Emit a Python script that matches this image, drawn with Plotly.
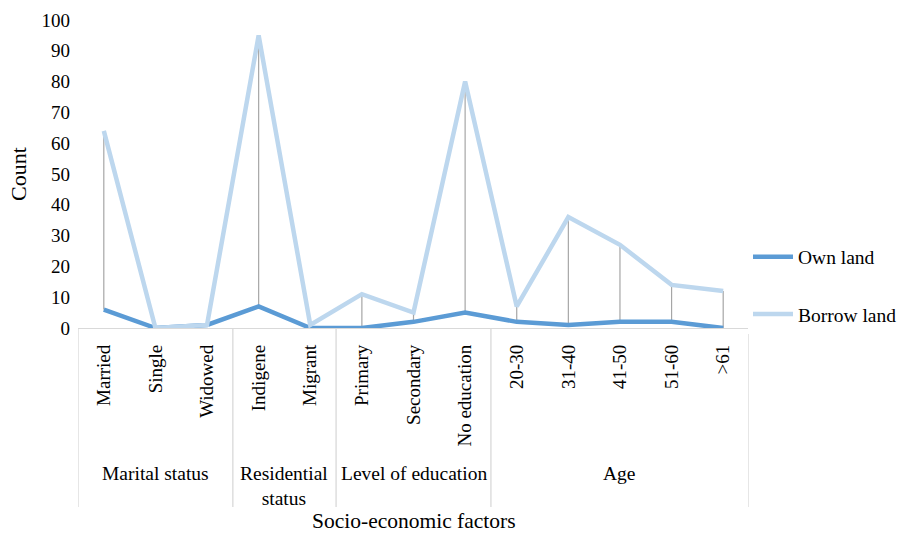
import plotly.graph_objects as go

categories = ["Married", "Single", "Widowed", "Indigene", "Migrant", "Primary",
              "Secondary", "No education", "20-30", "31-40", "41-50", "51-60", ">61"]
groups = ["Marital status", "Residential<br>status", "Level of education", "Age"]
group_sizes = [3, 2, 3, 5]
own_land = [6, 0, 1, 7, 0, 0, 2, 5, 2, 1, 2, 2, 0]
borrow_land = [64, 0, 1, 95, 1, 11, 5, 80, 7, 36, 27, 14, 12]
y_ticks = list(range(0, 101, 10))

FONT = "Liberation Serif, Times New Roman, serif"

fig = go.Figure()

# drop lines between the two series
dx, dy = [], []
for c, a, b in zip(categories, own_land, borrow_land):
    dx += [c, c, None]
    dy += [a, b, None]
fig.add_trace(go.Scatter(x=dx, y=dy, mode="lines", line=dict(color="#a6a6a6", width=1.2),
                         showlegend=False, hoverinfo="skip", cliponaxis=False))

fig.add_trace(go.Scatter(x=categories, y=own_land, mode="lines", name="Own land",
                         line=dict(color="#5b9bd5", width=4.5), legendgroup="a",
                         cliponaxis=False))
fig.add_trace(go.Scatter(x=categories, y=borrow_land, mode="lines", name="Borrow land",
                         line=dict(color="#bdd7ee", width=4.5), legendgroup="b",
                         cliponaxis=False))

plot_h = 308.0
def py(px):
    return (328 - px) / plot_h

# group separators and labels
shapes = []
annotations = []
start = 0
bounds = [-0.5]
for g, n in zip(groups, group_sizes):
    center = start + (n - 1) / 2
    annotations.append(dict(x=center, xref="x", y=py(461), yref="paper", text=g,
                            showarrow=False, yanchor="top", xanchor="center",
                            font=dict(family=FONT, size=19.5, color="#000")))
    start += n
    bounds.append(start - 0.5)
for b in bounds:
    shapes.append(dict(type="line", xref="x", yref="paper", x0=b, x1=b, y0=0, y1=py(507),
                       line=dict(color="#d9d9d9", width=1.3)))

annotations.append(dict(x=0.5, xref="paper", y=py(521), yref="paper",
                        text="Socio-economic factors", showarrow=False,
                        yanchor="middle", xanchor="center",
                        font=dict(family=FONT, size=21.5, color="#000")))

fig.update_layout(
    width=913, height=534,
    margin=dict(l=78, r=164, t=20, b=206, autoexpand=False),
    plot_bgcolor="white", paper_bgcolor="white",
    font=dict(family=FONT, size=19, color="#000"),
    shapes=shapes, annotations=annotations,
    legend=dict(xref="container", yref="container", x=748 / 913, xanchor="left",
                y=(534 - 285.5) / 534, yanchor="middle",
                traceorder="grouped", tracegroupgap=29,
                font=dict(family=FONT, size=19.5, color="#000"),
                itemwidth=40),
    xaxis=dict(type="category", categoryorder="array", categoryarray=categories,
               range=[-0.5, 12.5], tickangle=-90, showgrid=False,
               showline=True, linecolor="#d9d9d9", linewidth=1.3,
               ticks="", ticklabelstandoff=8,
               tickfont=dict(family=FONT, size=19, color="#000")),
    yaxis=dict(range=[0, 100], tickvals=y_ticks, showgrid=False, showline=False,
               zeroline=False, ticks="", ticklabelstandoff=7,
               tickfont=dict(family=FONT, size=19, color="#000"),
               title=dict(text="Count", font=dict(family=FONT, size=22, color="#000"),
                          standoff=8)),
)

fig.write_html("out.html", config={"displayModeBar": False},
               post_script="document.body.style.margin='0';document.body.style.padding='0';")
